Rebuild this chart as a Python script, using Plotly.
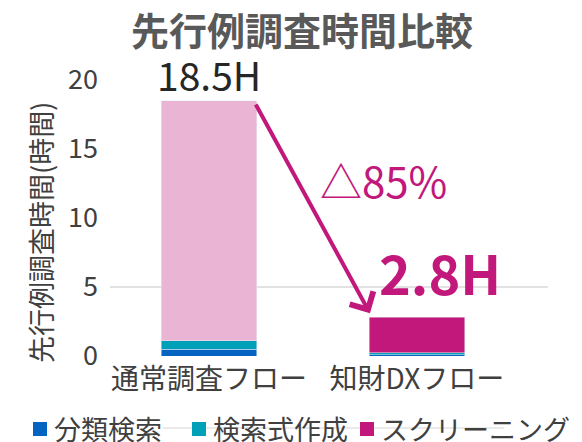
"""Stacked bar chart: prior-art search time comparison."""

import plotly.graph_objects as go

categories = ["通常調査フロー", "知財DXフロー"]
series_names = ["分類検索", "検索式作成", "スクリーニング"]
series_colors = ["#0563C1", "#00A0B8", "#C2177B"]
classify_hours = [0.5, 0.1]
query_hours = [0.6, 0.15]
screening_hours = [17.4, 2.55]
total_labels = ["18.5H", "2.8H"]
reduction_label = "△85%"
y_ticks = [0, 5, 10, 15, 20]

FONT = "Noto Sans CJK JP, Noto Sans, sans-serif"
MAGENTA = series_colors[2]
BAR_W = 0.46

W, H = 582, 442
M = dict(l=102, r=42, t=72, b=94)
PW = W - M["l"] - M["r"]
PH = H - M["t"] - M["b"]


def px_x(fx):
    """Figure pixel x -> paper x."""
    return (fx - M["l"]) / PW


def px_y(fy):
    """Figure pixel y (from top) -> paper y."""
    return (H - M["b"] - fy) / PH


totals = [a + b + c for a, b, c in zip(classify_hours, query_hours, screening_hours)]

fig = go.Figure()
fig.add_trace(go.Bar(x=categories, y=classify_hours, name=series_names[0],
                     marker_color=series_colors[0], width=BAR_W))
fig.add_trace(go.Bar(x=categories, y=query_hours, name=series_names[1],
                     marker_color=series_colors[1], width=BAR_W))
fig.add_trace(go.Bar(x=categories, y=screening_hours, name=series_names[2],
                     marker_color=["#EAB4D5", MAGENTA], width=BAR_W))

# one faint gridline at 5, and the stray line behind the legend
fig.add_shape(type="line", xref="paper", yref="y", x0=0, x1=1, y0=5, y1=5,
              line=dict(color="#D9D9D9", width=1.5), layer="below")
fig.add_shape(type="line", xref="paper", yref="paper", x0=0.12, x1=0.9,
              y0=px_y(420), y1=px_y(420), line=dict(color="#E3E3E3", width=1.5),
              layer="below")

# hand-made legend (plotly's own one wraps at this size)
legend_x = [25, 184, 352]
for name, color, lx in zip(series_names, series_colors, legend_x):
    fig.add_shape(type="rect", xref="paper", yref="paper",
                  x0=px_x(lx), x1=px_x(lx + 14), y0=px_y(414), y1=px_y(428),
                  fillcolor=color, line=dict(width=0))
    fig.add_annotation(xref="paper", yref="paper", x=px_x(lx + 19), y=px_y(420),
                       text=name, showarrow=False, xanchor="left",
                       yanchor="middle",
                       font=dict(size=27, color="#404040", family=FONT))

# y axis title
fig.add_annotation(xref="paper", yref="paper", x=px_x(32), y=px_y(225),
                   text="先行例調査時間(時間)", textangle=-90, showarrow=False,
                   xanchor="center", yanchor="middle",
                   font=dict(size=27, color="#404040", family=FONT))

# arrow from first bar top to second bar
fig.add_annotation(x=0.774, y=3.1, ax=0.221, ay=18.33,
                   xref="x", yref="y", axref="x", ayref="y",
                   text="", showarrow=True, arrowhead=4, arrowsize=1.3,
                   arrowwidth=4, arrowcolor=MAGENTA, standoff=0)
fig.add_annotation(x=0, y=totals[0], text=total_labels[0], showarrow=False,
                   yanchor="bottom", yshift=-3,
                   font=dict(size=39, color="#262626", family=FONT))
fig.add_annotation(x=1.11, y=totals[1], text="<b>" + total_labels[1] + "</b>",
                   showarrow=False, yanchor="bottom", yshift=4,
                   font=dict(size=54, color=MAGENTA, family=FONT))
fig.add_annotation(x=0.84, y=12.8, text=reduction_label, showarrow=False,
                   font=dict(size=42, color=MAGENTA, family=FONT))

fig.update_layout(
    barmode="stack",
    width=W,
    height=H,
    margin=dict(**M, autoexpand=False),
    paper_bgcolor="white",
    plot_bgcolor="white",
    font=dict(family=FONT, color="#404040", size=26),
    title=dict(text="<b>先行例調査時間比較</b>", x=294 / W,
               xanchor="center", y=1 - 24 / H, yanchor="middle",
               font=dict(size=38, color="#595959", family=FONT)),
    showlegend=False,
)
fig.update_xaxes(range=[-0.476, 1.63], showline=False, showgrid=False,
                 ticks="", automargin=False, ticklabelstandoff=4,
                 tickfont=dict(size=28, color="#404040"))
fig.update_yaxes(range=[0, 20], tickvals=y_ticks, showgrid=False,
                 zeroline=False, showline=False, ticks="", automargin=False,
                 ticklabelstandoff=11,
                 tickfont=dict(size=27, color="#404040"))

fig.write_html("out.html")
